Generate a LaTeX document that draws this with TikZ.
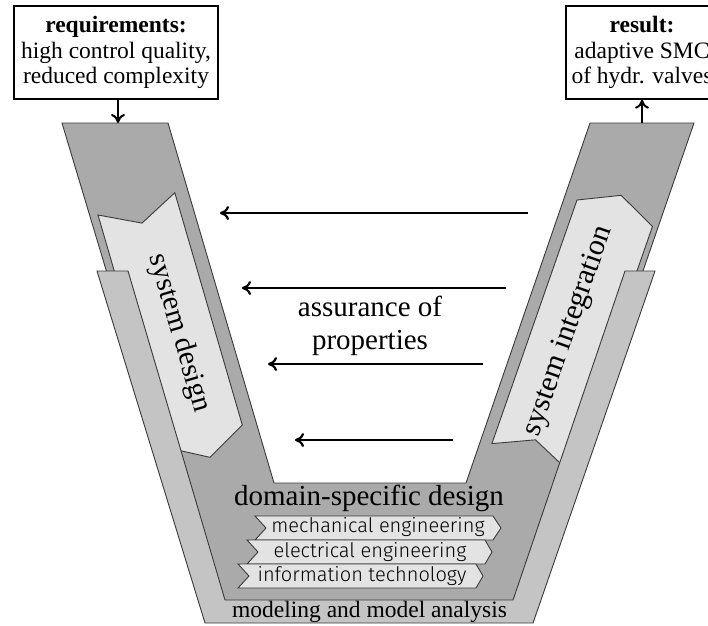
\documentclass[tikz,border=0pt]{standalone}
\usepackage{fontspec}
\setmainfont{Liberation Serif}
\newfontfamily\domfont{Fira Sans Light}
\usetikzlibrary{arrows.meta}
\definecolor{vdark}{HTML}{AAAAAA}
\definecolor{vmid}{HTML}{C4C4C4}
\definecolor{vlight}{HTML}{E3E3E3}
\definecolor{edgegray}{HTML}{3A3A3A}
\tikzset{
  shapeedge/.style={draw=edgegray, line width=0.9pt, line join=miter},
  flowarrow/.style={line width=2.2pt, -{Computer Modern Rightarrow[length=9pt,width=14pt]}},
  linkarrow/.style={line width=2pt, -{Computer Modern Rightarrow[length=9pt,width=14pt]}},
  infobox/.style={draw, line width=1.3pt, align=center, inner sep=0pt,
    minimum height=93pt, font=\fontsize{23.5}{25.5}\selectfont},
  bigtext/.style={font=\fontsize{29}{33}\selectfont, inner sep=0pt, align=center},
  basetext/.style={font=\fontsize{23.5}{25.5}\selectfont, inner sep=0pt},
  domtext/.style={font=\domfont\fontsize{20}{22}\selectfont, inner sep=0pt, anchor=base},
}
\begin{document}
\begin{tikzpicture}[x=1pt,y=-1pt]
\useasboundingbox (0,0) rectangle (708,625);
% dark V
\draw[shapeedge, fill=vdark] (62,123) -- (168,123) -- (274,483) -- (466,483)
  -- (590,123) -- (694,123) -- (526,610) -- (208,610) -- cycle;
% system design arrow
\draw[shapeedge, fill=vlight] (98,215) -- (142,223.1) -- (174.8,192.7) -- (242.3,425)
  -- (210,457.3) -- (165.5,447.3) -- cycle;
% system integration arrow
\draw[shapeedge, fill=vlight] (577,200) -- (621.1,195.3) -- (652.5,226.4) -- (567.4,470)
  -- (535.5,439.8) -- (491.9,443.6) -- cycle;
% modeling V
\draw[shapeedge, fill=vmid] (97,271) -- (128,271) -- (225,600) -- (513,600)
  -- (625,271) -- (655,271) -- (533,623) -- (205,623) -- cycle;
% domain boxes
\draw[shapeedge, fill=vlight] (255,516) -- (493,516) -- (501,528) -- (493,540) -- (255,540) -- (266,528) -- cycle;
\draw[shapeedge, fill=vlight] (247,540) -- (485,540) -- (492,552) -- (485,564) -- (247,564) -- (258,552) -- cycle;
\draw[shapeedge, fill=vlight] (238,564) -- (476,564) -- (483,576) -- (476,588) -- (238,588) -- (249,576) -- cycle;
\node[domtext] (mech) at (378,532) {mechanical engineering};
\node[domtext] (elec) at (370,557) {electrical engineering};
\node[domtext] (info) at (362,581) {information technology};
% texts
\node[bigtext, rotate=-73.8] (sysdes) at (179,333) {system design};
\node[bigtext, rotate=70.7, font=\fontsize{30}{33}\selectfont] (sysint) at (569,331) {system integration};
\node[bigtext, anchor=base] (domain) at (369,505) {domain-specific design};
\node[basetext, anchor=base] (model) at (369.5,617) {modeling and model analysis};
\node[bigtext] (assur) at (370,326) {assurance of\\properties};
% horizontal arrows
\coordinate (a1s) at (528,213); \coordinate (a1e) at (220,213);
\coordinate (a2s) at (506,288); \coordinate (a2e) at (242,288);
\coordinate (a3s) at (483,364); \coordinate (a3e) at (268,364);
\coordinate (a4s) at (453,440); \coordinate (a4e) at (295,440);
\draw[flowarrow] (a1s) -- (a1e);
\draw[flowarrow] (a2s) -- (a2e);
\draw[flowarrow] (a3s) -- (a3e);
\draw[flowarrow] (a4s) -- (a4e);
% top boxes
\node[infobox, minimum width=204pt] (req) at (116,52.5)
  {\textbf{requirements:}\\high control quality,\\reduced complexity};
\node[infobox, minimum width=152pt] (res) at (642,52.5)
  {\textbf{result:}\\adaptive SMC\\of hydr. valves};
\coordinate (vtopL) at (118,123);
\coordinate (vtopR) at (642,123);
\draw[linkarrow] (req.south -| vtopL) -- (vtopL);
\draw[linkarrow] (vtopR) -- (res.south -| vtopR);
\end{tikzpicture}
\end{document}
